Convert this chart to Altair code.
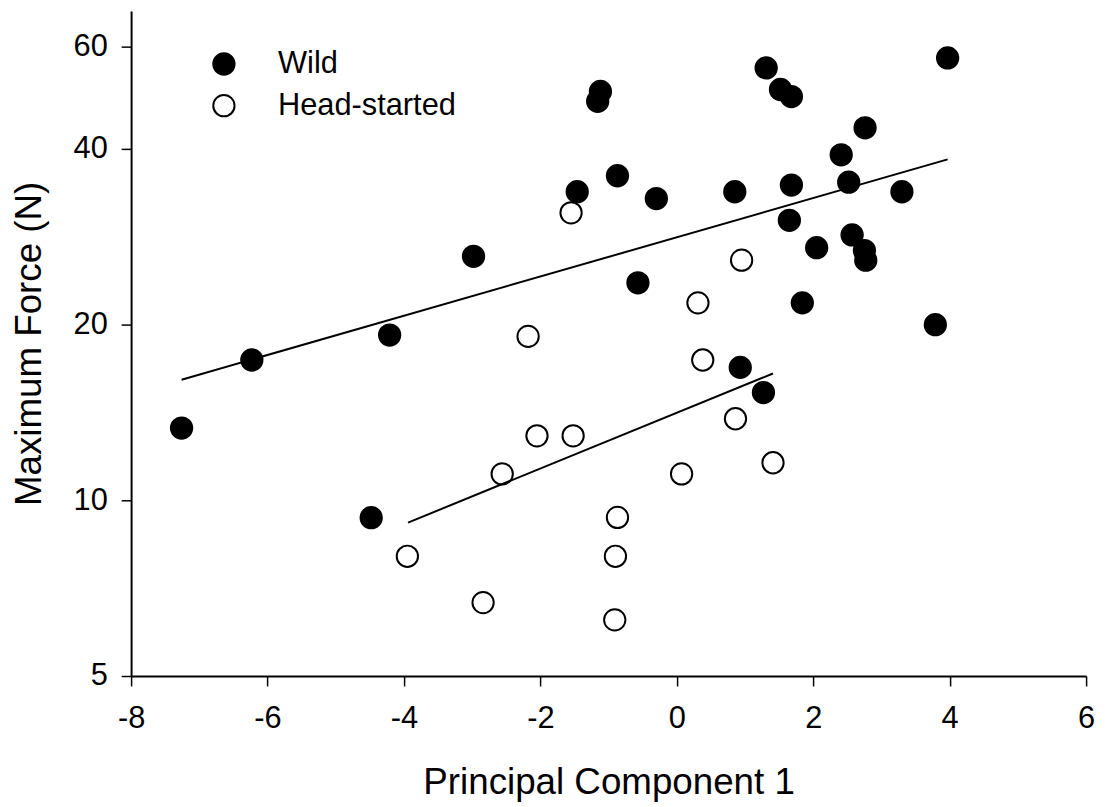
import altair as alt
import pandas as pd

# Wild (filled circles)
wild_x = [-1.12, -1.16, -0.87, -1.46, -2.98, -4.21, -6.23, 1.31, 1.52, 1.68,
          3.97, 2.76, 2.41, 2.52, 3.30, 1.68, 0.85, -0.30, 1.65, 2.57,
          2.75, 2.77, 2.05, -0.57, 1.84, 3.79, 0.93, 1.27, -7.26, -4.48]
wild_y = [50.2, 48.3, 36.0, 33.8, 26.2, 19.2, 17.4, 55.1, 50.6, 49.2,
          57.3, 43.5, 39.1, 35.1, 33.8, 34.7, 33.8, 32.9, 30.2, 28.5,
          26.8, 25.8, 27.1, 23.6, 21.8, 20.0, 16.9, 15.3, 13.3, 9.34]

# Head-started (open circles)
head_x = [-1.55, -2.18, 0.95, 0.31, 0.38, -2.05, -1.52, -2.56, -3.95, -2.84,
          -0.87, -0.90, -0.91, 0.86, 0.07, 1.41]
head_y = [31.1, 19.1, 25.8, 21.8, 17.4, 12.9, 12.9, 11.1, 8.02, 6.68,
          9.35, 8.02, 6.24, 13.8, 11.1, 11.6]

# Fitted regression lines (endpoints)
fit_group = ["Wild", "Wild", "Head-started", "Head-started"]
fit_x = [-7.26, 3.97, -3.94, 1.41]
fit_y = [16.1, 38.4, 9.16, 16.5]

groups = ["Wild", "Head-started"]
x_ticks = [-8, -6, -4, -2, 0, 2, 4, 6]
y_ticks = [5, 10, 20, 40, 60]

pts = pd.DataFrame({
    "pc1": head_x + wild_x,
    "force": head_y + wild_y,
    "group": ["Head-started"] * len(head_x) + ["Wild"] * len(wild_x),
})
fits = pd.DataFrame({"pc1": fit_x, "force": fit_y, "group": fit_group})

FONT = "Liberation Sans"

xscale = alt.Scale(domain=[-8, 6], nice=False, zero=False)
yscale = alt.Scale(type="log", domain=[5, 69], nice=False, zero=False)

xaxis = alt.Axis(values=x_ticks, title="Principal Component 1", grid=False,
                 labelExpr="'' + datum.value",
                 tickSize=10, labelPadding=18, labelFontSize=31, titleFontSize=37,
                 titleFontWeight="normal", titleBaseline="alphabetic", titleY=118,
                 labelFlush=False)
yaxis = alt.Axis(values=y_ticks, format="d", title="Maximum Force (N)", grid=False,
                 tickSize=10, labelPadding=14, labelFontSize=31, titleFontSize=37,
                 titleFontWeight="normal", titleBaseline="alphabetic", titleX=-91,
                 labelFlush=False)

lines = alt.Chart(fits).mark_line(color="black", strokeWidth=2).encode(
    x=alt.X("pc1:Q", scale=xscale, axis=xaxis),
    y=alt.Y("force:Q", scale=yscale, axis=yaxis),
    detail="group:N",
)

points = alt.Chart(pts).mark_circle(
    size=460, stroke="black", strokeWidth=2, opacity=1, fillOpacity=1
).encode(
    x=alt.X("pc1:Q", scale=xscale, axis=xaxis),
    y=alt.Y("force:Q", scale=yscale, axis=yaxis),
    fill=alt.Fill("group:N",
                  scale=alt.Scale(domain=groups, range=["black", "transparent"]),
                  legend=alt.Legend(title=None, orient="none", legendX=78, legendY=38,
                                    symbolType="circle", symbolSize=460,
                                    symbolStrokeColor="black", symbolStrokeWidth=2,
                                    labelFontSize=31, labelFont=FONT, labelOffset=39,
                                    labelLimit=0, rowPadding=10, labelColor="black")),
)

chart = alt.layer(lines, points).properties(
    width=962, height=670,
    autosize=alt.AutoSizeParams(type="none"),
    padding={"left": 124, "top": 0, "right": 13, "bottom": 125},
).configure_view(strokeWidth=0).configure_axis(
    labelFont=FONT, titleFont=FONT, labelColor="black", titleColor="black",
    domainColor="black", tickColor="black", domainWidth=2, tickWidth=1.5,
)

chart.save("out.html", embed_options={"renderer": "svg", "actions": False})
